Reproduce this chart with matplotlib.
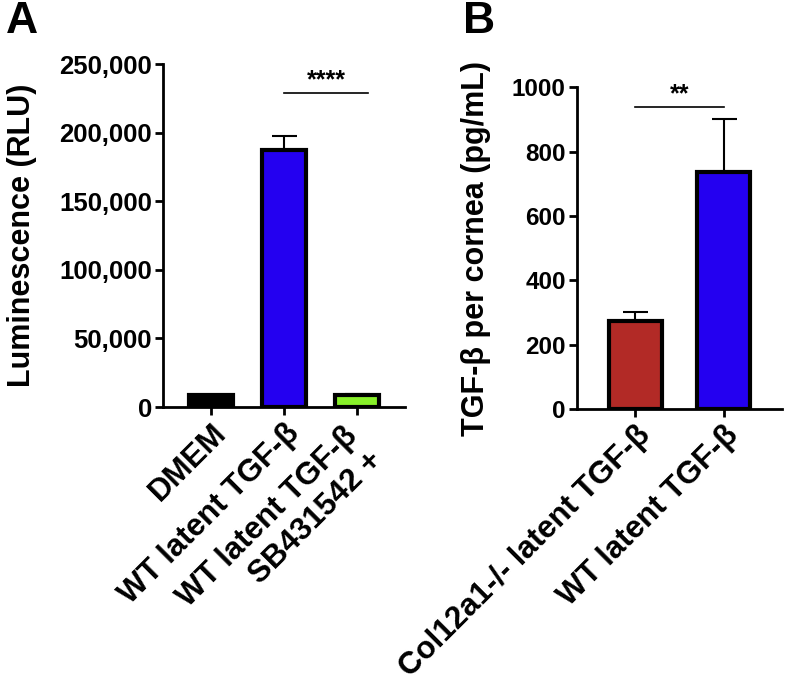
import numpy as np
import matplotlib
matplotlib.use("Agg")
import matplotlib.pyplot as plt
import matplotlib.transforms as mtransforms

plt.rcParams['font.family'] = ['Liberation Sans', 'DejaVu Sans']
plt.rcParams['font.weight'] = 'bold'
plt.rcParams['axes.labelweight'] = 'bold'

# panel A data
a_labels = ["DMEM", "WT latent TGF-β", "WT latent TGF-β\nSB431542 +"]
a_values = [8500, 187000, 9000]
a_errors = [500, 10500, 600]
a_colors = ["#000000", "#2400F0", "#88F02A"]
a_yticks = [0, 50000, 100000, 150000, 200000, 250000]
a_yticklabels = ["0", "50,000", "100,000", "150,000", "200,000", "250,000"]

# panel B data
b_labels = ["Col12a1-/- latent TGF-β", "WT latent TGF-β"]
b_values = [275, 737]
b_errors = [25, 165]
b_colors = ["#B22A26", "#2400F0"]
b_yticks = [0, 200, 400, 600, 800, 1000]


def style_axes(ax, ysize):
    for side in ['top', 'right']:
        ax.spines[side].set_visible(False)
    for side in ['left', 'bottom']:
        ax.spines[side].set_linewidth(2)
    ax.tick_params(axis='both', width=2, length=6, direction='out')
    ax.tick_params(axis='y', labelsize=ysize, pad=2)
    ax.tick_params(axis='x', pad=2)


def draw_bars(ax, labels, values, errors, colors):
    x = np.arange(len(values))
    ax.errorbar(x, values, yerr=[np.zeros(len(errors)), errors], fmt='none',
                ecolor='black', elinewidth=1.5, capsize=9, capthick=1.5, zorder=1)
    ax.bar(x, values, width=0.6, color=colors, edgecolor='black', linewidth=3, zorder=2)
    ax.set_xticks(x)
    ax.set_xticklabels(labels, rotation=45, ha='right', va='top',
                       rotation_mode='anchor', fontsize=22.5, multialignment='right')
    ax.set_xlim(-0.66, len(values) - 1 + 0.66)
    return x


fig = plt.figure(figsize=(7.88, 6.86), dpi=100)

# ---- panel A
axA = fig.add_axes([0.2069, 0.4067, 0.307, 0.5])
style_axes(axA, 18.5)
xa = draw_bars(axA, a_labels, a_values, a_errors, a_colors)
axA.set_ylim(0, 250000)
axA.set_yticks(a_yticks)
axA.set_yticklabels(a_yticklabels)
axA.set_ylabel("Luminescence (RLU)", fontsize=22, labelpad=16)
axA.plot([xa[1], xa[2] + 0.15], [229000, 229000], color='black', lw=1.2, clip_on=False)
axA.text((xa[1] + xa[2] + 0.15) / 2, 229500, "****", ha='center', va='bottom', fontsize=18)

# shift the two-line label a little up along the axis like the original
lab = axA.get_xticklabels()[2]
lab.set_transform(lab.get_transform() + mtransforms.ScaledTranslation(-14 / 100, -3 / 100, fig.dpi_scale_trans))

# ---- panel B
axB = fig.add_axes([0.7322, 0.4038, 0.260, 0.469])
style_axes(axB, 17.5)
xb = draw_bars(axB, b_labels, b_values, b_errors, b_colors)
axB.set_ylim(0, 1000)
axB.set_yticks(b_yticks)
axB.set_ylabel("TGF-β per cornea (pg/mL)", fontsize=22, labelpad=15)
axB.plot([xb[0], xb[1]], [938, 938], color='black', lw=1.2, clip_on=False)
axB.text((xb[0] + xb[1]) / 2, 940, "**", ha='center', va='bottom', fontsize=18)

fig.text(0.008, 0.998, "A", fontsize=32, fontweight='bold', va='top', ha='left')
fig.text(0.587, 0.998, "B", fontsize=32, fontweight='bold', va='top', ha='left')

fig.savefig("out.png", dpi=100)
